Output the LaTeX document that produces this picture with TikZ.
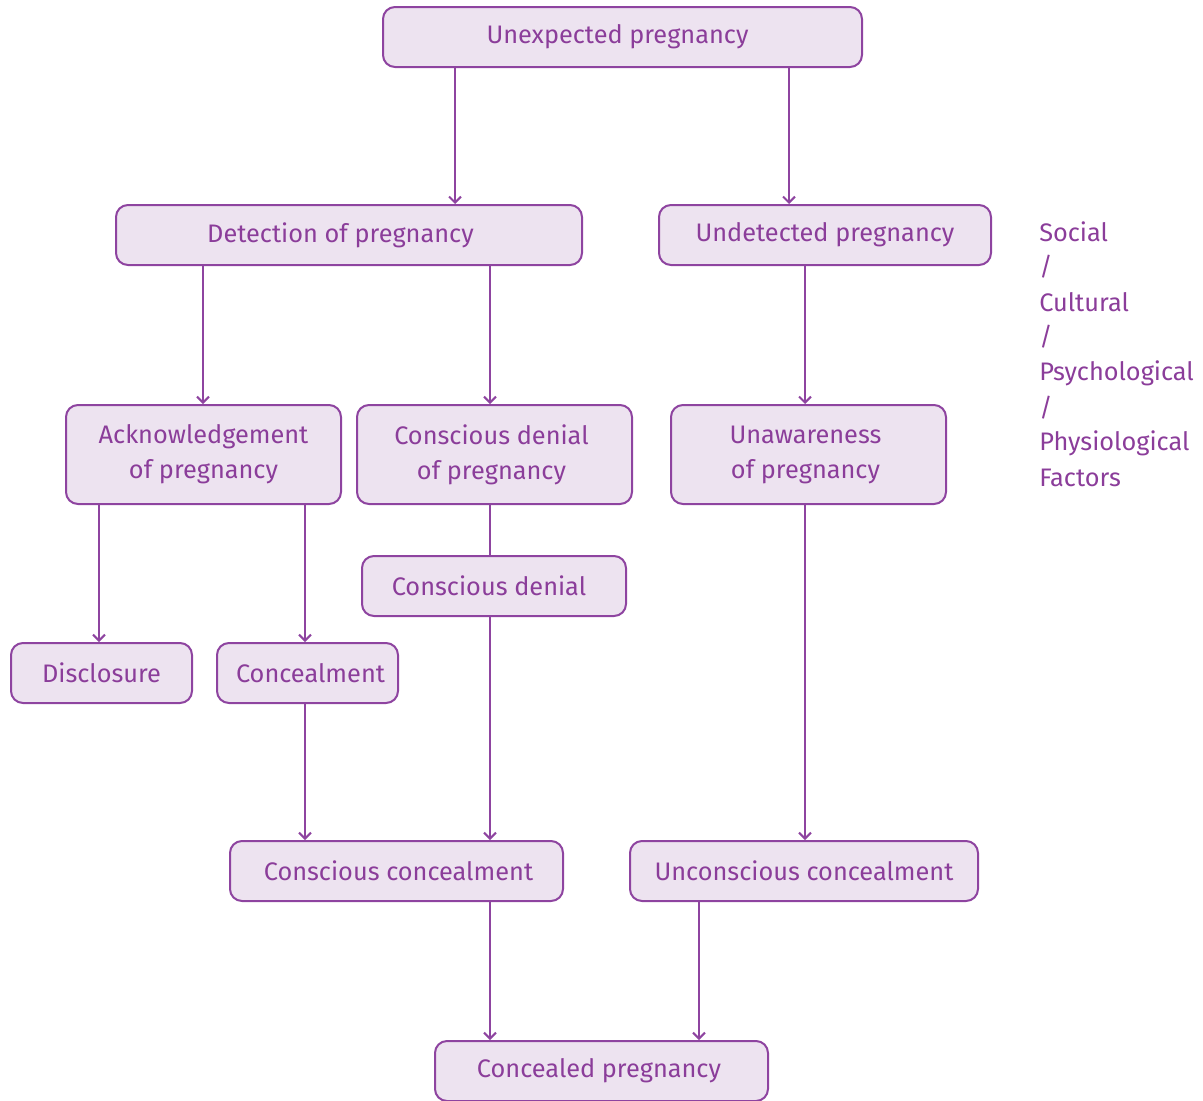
\documentclass[tikz,border=0pt]{standalone}
\usepackage{fontspec}
\setmainfont{Fira Sans}
\usetikzlibrary{arrows.meta}
\definecolor{pline}{RGB}{142,68,160}
\definecolor{ptext}{RGB}{139,61,154}
\definecolor{pfill}{RGB}{237,227,240}
\begin{document}
\begin{tikzpicture}[x=0.75pt,y=-0.75pt,
  box/.style={draw=pline, fill=pfill, line width=1.5pt, rounded corners=9pt,
    inner sep=0pt, align=center, text=ptext, font=\fontsize{19}{26.25}\selectfont},
  arr/.style={draw=pline, line width=1.5pt, -{Straight Barb[length=4.5pt,width=9pt,line width=1.5pt]}},
  link/.style={draw=pline, line width=1.5pt},
  side/.style={text=ptext, font=\fontsize{19}{26.25}\selectfont, anchor=west, inner sep=0pt}]
\useasboundingbox (0,0) rectangle (1203,1100);
\node[box, minimum width=359.25pt, minimum height=45pt] (up) at (622.5,37) {Unexpected pregnancy\hspace*{7.5pt}};
\node[box, minimum width=349.5pt, minimum height=45pt] (det) at (349,235) {Detection of pregnancy\hspace*{12.75pt}};
\node[box, minimum width=249pt, minimum height=45pt] (und) at (825,235) {Undetected pregnancy};
\node[box, minimum width=206.25pt, minimum height=74.25pt] (ack) at (203.5,454.5) {Acknowledgement\\of pregnancy};
\node[box, minimum width=206.25pt, minimum height=74.25pt] (cdp) at (494.5,454.5) {Conscious denial\hspace*{4.5pt}\\of pregnancy\hspace*{4.5pt}};
\node[box, minimum width=206.25pt, minimum height=74.25pt] (una) at (808.5,454.5) {Unawareness\hspace*{4.5pt}\\of pregnancy\hspace*{4.5pt}};
\node[box, minimum width=198pt, minimum height=45pt] (cd) at (494,586) {Conscious denial\hspace*{7.5pt}};
\node[box, minimum width=135.75pt, minimum height=45pt] (dis) at (101.5,673) {Disclosure};
\node[box, minimum width=135.75pt, minimum height=45pt] (con) at (307.5,673) {\hspace*{4.5pt}Concealment};
\node[box, minimum width=249.75pt, minimum height=45pt] (cc) at (396.5,871) {\hspace*{3pt}Conscious concealment};
\node[box, minimum width=261pt, minimum height=45pt] (uc) at (804,871) {Unconscious concealment};
\node[box, minimum width=249.75pt, minimum height=45pt] (cp) at (601.5,1071) {Concealed pregnancy\hspace*{3.75pt}};

\node[side] (s1) at (1039,232) {Social};
\node[side] (s2) at (1039,267) {/};
\node[side] (s3) at (1039,302) {Cultural};
\node[side] (s4) at (1039,337) {/};
\node[side] (s5) at (1039,373) {Psychological};
\node[side] (s6) at (1039,408) {/};
\node[side] (s7) at (1039,443) {Physiological};
\node[side] (s8) at (1039,478) {Factors};

\draw[arr] (up.south -| 455,0) -- (det.north -| 455,0);
\draw[arr] (up.south -| 789,0) -- (und.north -| 789,0);
\draw[arr] (det.south -| 203,0) -- (ack.north -| 203,0);
\draw[arr] (det.south -| 490,0) -- (cdp.north -| 490,0);
\draw[arr] (und.south -| 805,0) -- (una.north -| 805,0);
\draw[link] (cdp.south -| 490,0) -- (cd.north -| 490,0);
\draw[arr] (ack.south -| 99,0) -- (dis.north -| 99,0);
\draw[arr] (ack.south -| 305,0) -- (con.north -| 305,0);
\draw[arr] (con.south -| 305,0) -- (cc.north -| 305,0);
\draw[arr] (cd.south -| 490,0) -- (cc.north -| 490,0);
\draw[arr] (una.south -| 805,0) -- (uc.north -| 805,0);
\draw[arr] (cc.south -| 490,0) -- (cp.north -| 490,0);
\draw[arr] (uc.south -| 699,0) -- (cp.north -| 699,0);
\end{tikzpicture}
\end{document}
